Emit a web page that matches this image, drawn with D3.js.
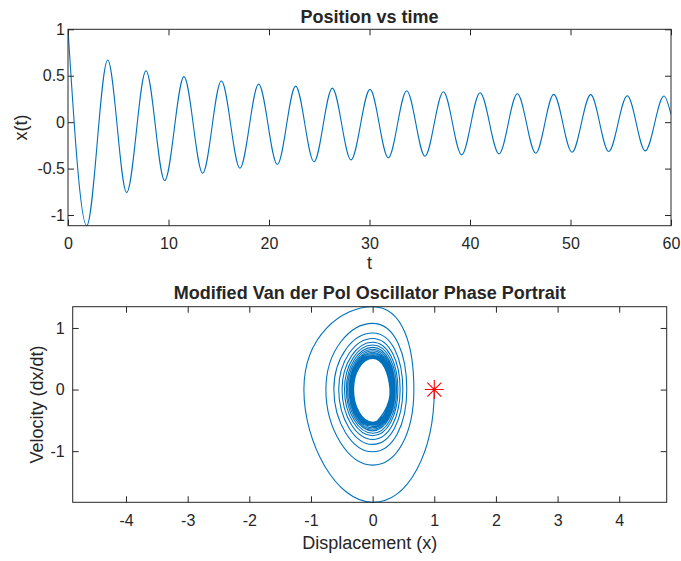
<!DOCTYPE html>
<html><head><meta charset="utf-8">
<script src="https://cdn.jsdelivr.net/npm/d3@7"></script>
<style>
body{margin:0;background:#fff}
svg text{font-family:"Liberation Sans",Arial,Helvetica,sans-serif;fill:#262626}
</style>
</head><body><svg id="c" width="681" height="561"></svg>
<script>
// ---- data ----
// turning points of x(t) (times and values), x(t) at end of run
const extremaT = [0, 1.86, 3.95, 5.84, 7.76, 9.62, 11.54, 13.4, 15.26, 17.11, 18.97, 20.83, 22.65, 24.48, 26.3, 28.16, 30.05, 31.87, 33.7, 35.52, 37.35, 39.17, 41.0, 42.89, 44.71, 46.54, 48.33, 50.15, 52.01, 53.8, 55.65, 57.44, 59.3, 60];
const extremaX = [1, -1.115, 0.669, -0.758, 0.554, -0.629, 0.49, -0.55, 0.446, -0.496, 0.41, -0.456, 0.388, -0.427, 0.367, -0.406, 0.353, -0.384, 0.339, -0.367, 0.328, -0.352, 0.317, -0.341, 0.306, -0.334, 0.299, -0.324, 0.296, -0.316, 0.285, -0.309, 0.281, 0.083];
// phase portrait: displacement where velocity = 0 (turning points) and velocity peaks at x ~ 0
const phaseTurnX = [1, -1.115, 0.669, -0.758, 0.554, -0.629, 0.49, -0.55, 0.446, -0.496, 0.41, -0.456, 0.388, -0.427, 0.367, -0.406, 0.353, -0.384, 0.339, -0.367, 0.328, -0.352, 0.317, -0.341, 0.306, -0.334, 0.299, -0.324, 0.296, -0.316, 0.285, -0.309, 0.281];
const phasePeakV = [-1.83, 1.345, -1.227, 1.075, -1.01, 0.917, -0.89, 0.83, -0.81, 0.767, -0.75, 0.723, -0.71, 0.685, -0.67, 0.655, -0.645, 0.63, -0.62, 0.605, -0.60, 0.585, -0.58, 0.565, -0.565, 0.55, -0.55, 0.535, -0.54, 0.52, -0.53, 0.505];
const phaseEnd = [0.083, -0.5];
const initialState = [1, 0];
const timeTicks = [0, 10, 20, 30, 40, 50, 60];
const posTicks = [-1, -0.5, 0, 0.5, 1];
const dispTicks = [-4, -3, -2, -1, 0, 1, 2, 3, 4];
const velTicks = [-1, 0, 1];

// ---- drawing ----
const svg = d3.select("#c");
svg.append("rect").attr("width", 681).attr("height", 561).attr("fill", "#fff");
const AX = "#262626", LINE = "#0072BD";
const fmt = d => String(d);
const LBL = "18px";

function frame(g, x, y, xt, yt, padY) {
  const [x0, x1] = x.range(), [y0, y1] = y.range();
  const ax = (a, tr) => g.append("g").attr("transform", tr).call(a)
    .call(s => s.select(".domain").remove())
    .call(s => s.selectAll("line").attr("stroke", AX))
    .call(s => s.selectAll("text").attr("fill", AX).style("font-size", "16px").style("font-family", "'Liberation Sans',Arial,sans-serif"));
  ax(d3.axisBottom(x).tickValues(xt).tickFormat(fmt).tickSize(-6).tickPadding(12), `translate(0,${y0})`);
  ax(d3.axisTop(x).tickValues(xt).tickFormat("").tickSize(-6), `translate(0,${y1})`);
  ax(d3.axisLeft(y).tickValues(yt).tickFormat(fmt).tickSize(-6).tickPadding(padY), `translate(${x0},0)`);
  ax(d3.axisRight(y).tickValues(yt).tickFormat("").tickSize(-6), `translate(${x1},0)`);
  g.append("rect").attr("x", x0).attr("y", y1).attr("width", x1 - x0).attr("height", y0 - y1)
    .attr("fill", "none").attr("stroke", AX).attr("stroke-width", 1);
}
function clip(id, x, y) {
  const [x0, x1] = x.range(), [y0, y1] = y.range();
  svg.append("clipPath").attr("id", id).append("rect")
    .attr("x", x0).attr("y", y1 - 1).attr("width", x1 - x0).attr("height", y0 - y1 + 2);
}

// top panel
const xT = d3.scaleLinear([0, 60], [68, 671]);
const yT = d3.scaleLinear([-1.115, 1], [225.7, 29.3]);
clip("c1", xT, yT);
const g1 = svg.append("g");
const series = extremaT.map((t, i) => [t, extremaX[i]]);
g1.append("path").attr("clip-path", "url(#c1)")
  .attr("d", d3.line().x(d => xT(d[0])).y(d => yT(d[1])).curve(d3.curveMonotoneX)(series))
  .attr("fill", "none").attr("stroke", LINE).attr("stroke-width", 1.1);
frame(g1, xT, yT, timeTicks, posTicks, 3);
g1.append("text").attr("x", 369.5).attr("y", 22.7).attr("text-anchor", "middle")
  .style("font-size", LBL).style("font-weight", "bold").attr("fill", "#000").text("Position vs time");
g1.append("text").attr("x", 369.5).attr("y", 268.5).attr("text-anchor", "middle")
  .style("font-size", LBL).text("t");
g1.append("text").attr("transform", "translate(27,127.5) rotate(-90)").attr("text-anchor", "middle")
  .style("font-size", LBL).text("x(t)");

// bottom panel
const xP = d3.scaleLinear([-4.865, 4.77], [72.7, 666.7]);
const yP = d3.scaleLinear([-1.83, 1.345], [502.3, 306.7]);
clip("c2", xP, yP);
const g2 = svg.append("g");
const traj = [];
phaseTurnX.forEach((xv, i) => {
  traj.push([xv, 0]);
  if (i < phasePeakV.length) traj.push([0, phasePeakV[i]]);
});
traj.push(phaseEnd);
// cardinal curve that leaves the initial state with zero horizontal speed (v = 0 at start)
const baseCurve = d3.curveCardinal.tension(-0.657);
function launchCurve(context) {
  const c = baseCurve(context);
  const pt = c.point;
  let n = 0;
  c.point = function (x, y) {
    pt.call(this, x, y);
    if (++n === 2) { this._y0 = 2 * this._y1 - this._y2; }
  };
  return c;
}
g2.append("path").attr("clip-path", "url(#c2)")
  .attr("d", d3.line().x(d => xP(d[0])).y(d => yP(d[1])).curve(launchCurve)(traj))
  .attr("fill", "none").attr("stroke", LINE).attr("stroke-width", 1.1);
// red star marker at initial state
const sx = xP(initialState[0]), sy = yP(initialState[1]);
const r = 9.5, rd = 7;
g2.append("path")
  .attr("d", `M${sx - r},${sy}L${sx + r},${sy}M${sx},${sy - r}L${sx},${sy + r}M${sx - rd},${sy - rd}L${sx + rd},${sy + rd}M${sx - rd},${sy + rd}L${sx + rd},${sy - rd}`)
  .attr("stroke", "#FF0000").attr("stroke-width", 1.1).attr("fill", "none");
frame(g2, xP, yP, dispTicks, velTicks, 8);
g2.append("text").attr("x", 369.7).attr("y", 299).attr("text-anchor", "middle")
  .style("font-size", LBL).style("font-weight", "bold").attr("fill", "#000").text("Modified Van der Pol Oscillator Phase Portrait");
g2.append("text").attr("x", 369.7).attr("y", 549).attr("text-anchor", "middle")
  .style("font-size", LBL).text("Displacement (x)");
g2.append("text").attr("transform", "translate(43,404.5) rotate(-90)").attr("text-anchor", "middle")
  .style("font-size", LBL).text("Velocity (dx/dt)");
</script>
</body></html>
